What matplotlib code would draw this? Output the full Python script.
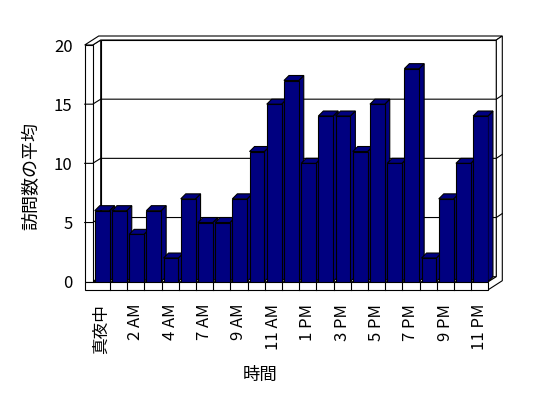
import matplotlib
matplotlib.use('Agg')
import matplotlib.pyplot as plt
from matplotlib.patches import Polygon

plt.rcParams['font.family'] = ['Noto Sans CJK JP', 'DejaVu Sans']

# hourly categories (no 6 AM row in the source) and average visits
hours = ['真夜中', '1 AM', '2 AM', '3 AM', '4 AM', '5 AM', '7 AM', '8 AM', '9 AM',
         '10 AM', '11 AM', '正午', '1 PM', '2 PM', '3 PM', '4 PM', '5 PM', '6 PM',
         '7 PM', '8 PM', '9 PM', '10 PM', '11 PM']
visits = [6, 6, 4, 6, 2, 7, 5, 5, 7, 11, 15, 17, 10, 14, 14, 11, 15, 10, 18, 2, 7, 10, 14]
yticks = [0, 5, 10, 15, 20]

navy = '#000080'
W, H = 548, 398
fig = plt.figure(figsize=(W / 100, H / 100), dpi=100)

# front plane of the plot area in pixels
XL, XR = 92.7, 488.3
Y0, Y20 = 281.7, 45.0
ax = fig.add_axes([XL / W, 1 - Y0 / H, (XR - XL) / W, (Y0 - Y20) / H])
n = len(visits)
ax.set_xlim(-0.5, n - 0.5)
ax.set_ylim(0, 20)
ax.patch.set_visible(False)
for s in ax.spines.values():
    s.set_visible(False)

px_x = (XR - XL) / n
px_y = (Y0 - Y20) / 20


def px(dx, dy):
    # pixel offsets -> data offsets
    return dx / px_x, dy / px_y


def poly(pts, fc='white', z=1.0):
    ax.add_patch(Polygon(pts, closed=True, fc=fc, ec='black', lw=0.8,
                         zorder=z, clip_on=False, joinstyle='miter'))


x0, x1 = -0.5, n - 0.5
ix, iy = px(8, 5)      # back wall inner plane
ox, oy = px(14, 9)     # back wall outer plane
wt, _ = px(8, 0)       # left wall thickness
_, ft = px(0, 8)       # floor thickness
bx, by = px(5, 5)      # bar depth

# walls and floor
poly([(x0 + ix, iy), (x1 + ix, iy), (x1 + ix, 20 + iy), (x0 + ix, 20 + iy)], z=1.0)
poly([(x0, 0), (x0 + ix, iy), (x0 + ix, 20 + iy), (x0, 20)], z=1.1)
poly([(x0, 0), (x1, 0), (x1 + ix, iy), (x0 + ix, iy)], z=1.1)
poly([(x0 - wt, 20), (x0, 20), (x0 + ix, 20 + iy), (x1 + ix, 20 + iy),
      (x1 + ox, 20 + oy), (x0 - wt + ox, 20 + oy)], z=1.1)
poly([(x1, 0), (x1, -ft), (x1 + ox, -ft + oy), (x1 + ox, 20 + oy),
      (x1 + ix, 20 + iy), (x1 + ix, iy)], z=1.1)
poly([(x0 - wt, 0), (x0, 0), (x0, 20), (x0 - wt, 20)], z=1.1)
poly([(x0 - wt, -ft), (x1, -ft), (x1, 0), (x0 - wt, 0)], z=1.1)

# gridlines across left wall, back wall and right edge
for v in yticks[1:-1]:
    ax.plot([x0 - wt, x0, x0 + ix, x1 + ix, x1 + ox], [v, v, v + iy, v + iy, v + oy],
            color='black', lw=0.8, zorder=1.5, clip_on=False)
# category cells on the floor front
for k in range(1, n):
    ax.plot([x0 + k, x0 + k], [-ft, 0], color='black', lw=0.8, zorder=1.5, clip_on=False)

# bars
bw = 0.86
xs = [i + 0.05 for i in range(n)]
bars = ax.bar(xs, visits, width=bw, color=navy, edgecolor='black', lw=0.8)
for i, (b, x, v) in enumerate(zip(bars, xs, visits)):
    l, r = x - bw / 2, x + bw / 2
    z = 3 + i * 0.1
    poly([(r, 0), (r + bx, by), (r + bx, v + by), (r, v)], fc=navy, z=z)
    poly([(l, v), (r, v), (r + bx, v + by), (l + bx, v + by)], fc=navy, z=z)
    b.set_zorder(z + 0.05)

ax.set_xticks(range(0, n, 2))
ax.set_xticklabels(hours[::2], rotation=90, fontsize=12)
ax.set_yticks(yticks)
ax.set_yticklabels([str(t) for t in yticks], fontsize=12)
ax.tick_params(axis='x', length=0, pad=16)
ax.tick_params(axis='y', length=0, pad=14.5)

fig.text(31 / W, 1 - 176 / H, '訪問数の平均', rotation=90, ha='center', va='center', fontsize=13)
fig.text(260 / W, 1 - 375 / H, '時間', ha='center', va='center', fontsize=12.5)

fig.savefig('out.png', dpi=100)
